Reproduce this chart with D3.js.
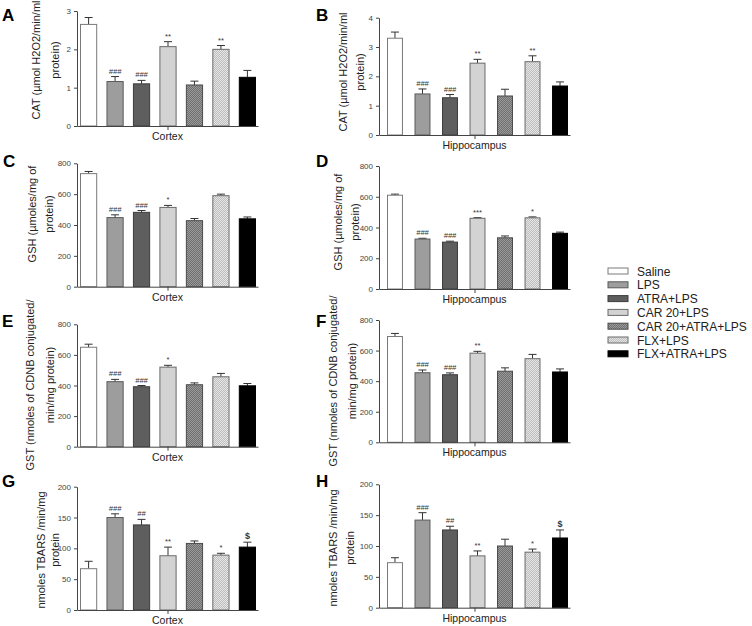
<!DOCTYPE html>
<html><head><meta charset="utf-8">
<script src="https://cdn.jsdelivr.net/npm/d3@7"></script>
<style>body{margin:0;background:#fff}svg{display:block;font-family:Arial,"Liberation Sans",sans-serif}</style>
</head><body>
<svg id="c" width="752" height="626"></svg>
<script>
const groups = ["Saline","LPS","ATRA+LPS","CAR 20+LPS","CAR 20+ATRA+LPS","FLX+LPS","FLX+ATRA+LPS"];
const regions = ["Cortex","Hippocampus"];

const catCortex = [2.65,1.16,1.10,2.07,1.07,2.00,1.27];
const catCortexErr = [0.18,0.13,0.09,0.13,0.10,0.10,0.18];
const catHippo = [3.30,1.40,1.27,2.45,1.33,2.50,1.67];
const catHippoErr = [0.21,0.17,0.11,0.13,0.23,0.20,0.14];

const gshCortex = [733,448,482,514,428,590,440];
const gshCortexErr = [14,18,12,13,14,10,12];
const gshHippo = [610,325,305,460,333,463,362];
const gshHippoErr = [7,5,6,4,12,6,8];

const gstCortex = [650,425,392,520,405,457,398];
const gstCortexErr = [20,15,8,12,12,22,15];
const gstHippo = [692,455,442,583,465,547,460];
const gstHippoErr = [20,18,12,12,22,28,20];

const tbarsCortex = [67,150,138,88,108,89,102];
const tbarsCortexErr = [12,6,9,14,4,3,8];
const tbarsHippo = [73,142,126,84,100,90,113];
const tbarsHippoErr = [8,12,6,8,11,5,13];

const catTicks = [[0,1,2,3],[0,1,2,3,4]];
const gshTicks = [0,200,400,600,800];
const tbarsTicks = [0,50,100,150,200];

const sigCat = ["","###","###","**","","**",""];
const sigGshC = ["","###","###","*","","",""];
const sigGshH = ["","###","###","***","","*",""];
const sigGstC = ["","###","###","*","","",""];
const sigGstH = ["","###","###","**","","",""];
const sigTbars = ["","###","##","**","","*","$"];

const yLabelCat = ["CAT (\u00b5mol H2O2/min/ml","protein)"];
const yLabelGsh = ["GSH (\u00b5moles/mg of","protein)"];
const yLabelGst = ["GST (nmoles of CDNB conjugated/","min/mg protein)"];
const yLabelTbars = ["nmoles TBARS /min/mg","protein"];

const letters = ["A","B","C","D","E","F","G","H"];

// layout (positions only)
const panels = [
 {L:letters[0], vals:catCortex, err:catCortexErr, ticks:catTicks[0], max:3, sig:sigCat, ylab:yLabelCat, reg:regions[0], x0:77,x1:258,yb:126,yt:11, r:[80,256], pi:0.35, lx:[40,59], ly:60, letter:[2,21]},
 {L:letters[1], vals:catHippo, err:catHippoErr, ticks:catTicks[1], max:4, sig:sigCat, ylab:yLabelCat, reg:regions[1], x0:379,x1:570,yb:135,yt:17.7, r:[387,568], pi:0.42, lx:[347,364], ly:72, letter:[316,21]},
 {L:letters[2], vals:gshCortex, err:gshCortexErr, ticks:gshTicks, max:800, sig:sigGshC, ylab:yLabelGsh, reg:regions[0], x0:77,x1:258,yb:286.7,yt:163.3, r:[80,256], pi:0.35, lx:[36,53], ly:214, letter:[3,167]},
 {L:letters[3], vals:gshHippo, err:gshHippoErr, ticks:gshTicks, max:800, sig:sigGshH, ylab:yLabelGsh, reg:regions[1], x0:379,x1:570,yb:289,yt:166, r:[387,568], pi:0.42, lx:[342,359], ly:222, letter:[316,167]},
 {L:letters[4], vals:gstCortex, err:gstCortexErr, ticks:gshTicks, max:800, sig:sigGstC, ylab:yLabelGst, reg:regions[0], x0:77,x1:258,yb:446.7,yt:324.3, r:[80,256], pi:0.35, lx:[34,54], ly:385, letter:[2,327]},
 {L:letters[5], vals:gstHippo, err:gstHippoErr, ticks:gshTicks, max:800, sig:sigGstH, ylab:yLabelGst, reg:regions[1], x0:379,x1:570,yb:442.3,yt:320, r:[387,568], pi:0.42, lx:[337,356], ly:381, letter:[316,327]},
 {L:letters[6], vals:tbarsCortex, err:tbarsCortexErr, ticks:tbarsTicks, max:200, sig:sigTbars, ylab:yLabelTbars, reg:regions[0], x0:77,x1:258,yb:610,yt:486.7, r:[80,256], pi:0.35, lx:[45,59], ly:550, letter:[2,487]},
 {L:letters[7], vals:tbarsHippo, err:tbarsHippoErr, ticks:tbarsTicks, max:200, sig:sigTbars, ylab:yLabelTbars, reg:regions[1], x0:379,x1:570,yb:607.7,yt:484.3, r:[387,568], pi:0.42, lx:[337,354], ly:548, letter:[316,487]}
];

const svg = d3.select("#c");
const defs = svg.append("defs");
function dotPattern(id, base, dot){
  const p = defs.append("pattern").attr("id",id).attr("width",2).attr("height",2).attr("patternUnits","userSpaceOnUse");
  p.append("rect").attr("width",2).attr("height",2).attr("fill",base);
  p.append("rect").attr("width",1).attr("height",1).attr("fill",dot);
  p.append("rect").attr("x",1).attr("y",1).attr("width",1).attr("height",1).attr("fill",dot);
}
dotPattern("pCA","#6f6f6f","#9a9a9a");
dotPattern("pFLX","#bdbdbd","#e6e6e6");

const fills = ["#ffffff","#9d9d9d","#5e5e5e","#d3d3d3","url(#pCA)","url(#pFLX)","#000000"];
const strokes = ["#7a7a7a","#5a5a5a","#3c3c3c","#6a6a6a","#4a4a4a","#6a6a6a","#000000"];
const color = d3.scaleOrdinal().domain(groups).range(fills);
const strokeC = d3.scaleOrdinal().domain(groups).range(strokes);

panels.forEach(p => {
  const g = svg.append("g");
  const x = d3.scaleBand().domain(groups).range(p.r).paddingInner(p.pi).paddingOuter(0);
  const y = d3.scaleLinear().domain([0,p.max]).range([p.yb,p.yt]);

  const data = groups.map((k,i)=>({k, v:p.vals[i], e:p.err[i], s:p.sig[i]}));
  data.forEach(d=>{
    const cx = x(d.k)+x.bandwidth()/2;
    g.append("line").attr("x1",cx).attr("x2",cx).attr("y1",y(d.v)).attr("y2",y(d.v+d.e)).attr("stroke","#333").attr("stroke-width",1);
    g.append("line").attr("x1",cx-4).attr("x2",cx+4).attr("y1",y(d.v+d.e)).attr("y2",y(d.v+d.e)).attr("stroke","#333").attr("stroke-width",1);
    if(d.s){
      g.append("text").attr("x",cx).attr("y",y(d.v+d.e)-3).attr("text-anchor","middle")
        .attr("font-size", d.s==="$"?9:7.5).attr("font-weight", d.s==="$"?"bold":"normal")
        .attr("font-style", d.s.startsWith("#")?"italic":"normal")
        .attr("fill","#333").text(d.s);
    }
  });
  g.selectAll("rect.bar").data(data).enter().append("rect").attr("class","bar")
    .attr("x",d=>x(d.k)+0.5).attr("width",x.bandwidth()-1)
    .attr("y",d=>y(d.v)).attr("height",d=>y(0)-y(d.v))
    .attr("fill",d=>color(d.k)).attr("stroke",d=>strokeC(d.k)).attr("stroke-width",1);

  const ya = g.append("g").attr("transform",`translate(${p.x0},0)`)
    .call(d3.axisLeft(y).tickValues(p.ticks).tickSize(3).tickSizeOuter(0).tickFormat(d3.format("d")));
  ya.select(".domain").attr("stroke","#444");
  ya.selectAll(".tick line").attr("stroke","#444");
  ya.selectAll(".tick text").attr("font-size",8).attr("fill","#444").attr("font-family","Arial, Liberation Sans, sans-serif");

  const xr = d3.scaleLinear().domain([0,1]).range([p.x0,p.x1]);
  const xa = g.append("g").attr("transform",`translate(0,${p.yb})`)
    .call(d3.axisBottom(xr).tickValues([0.5]).tickSize(4).tickSizeOuter(0).tickFormat(""));
  xa.select(".domain").attr("stroke","#444");
  xa.selectAll(".tick line").attr("stroke","#444");
  g.append("text").attr("x",xr(0.5)).attr("y",p.yb+14).attr("text-anchor","middle")
    .attr("font-size",10.5).attr("fill","#222").text(p.reg);

  p.ylab.forEach((t,i)=>{
    g.append("text").attr("transform",`translate(${p.lx[i]},${p.ly}) rotate(-90)`)
      .attr("text-anchor","middle").attr("font-size",11).attr("fill","#222").text(t);
  });

  svg.append("text").attr("x",p.letter[0]).attr("y",p.letter[1]).attr("font-size",17).attr("font-weight","bold").attr("fill","#000").text(p.L);
});

const lg = svg.append("g");
groups.forEach((k,i)=>{
  const cy = 271 + i*13.8;
  lg.append("rect").attr("x",608).attr("y",cy-3).attr("width",20).attr("height",6)
    .attr("fill",color(k)).attr("stroke",strokeC(k)).attr("stroke-width",1);
  lg.append("text").attr("x",637).attr("y",cy+4.5).attr("font-size",12).attr("fill","#222").text(k);
});
</script>
</body></html>
